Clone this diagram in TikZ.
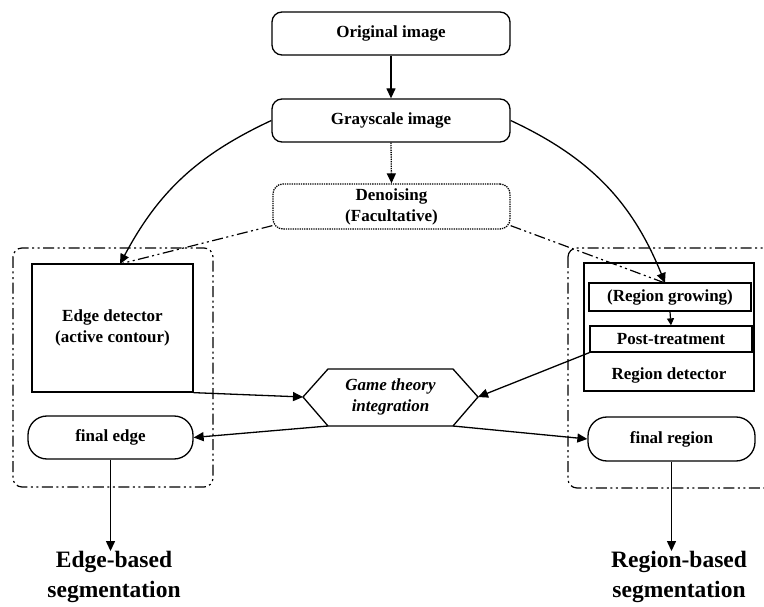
\documentclass[tikz,border=0pt]{standalone}
\usepackage{fontspec}
\setmainfont{Liberation Serif}
\usetikzlibrary{arrows.meta,calc}
\tikzset{
  lbl/.style={font=\bfseries\fontsize{17}{21}\selectfont, align=center, inner sep=0pt},
  box/.style={draw, line width=1.3pt, lbl},
  rbox/.style={box, rounded corners=10pt},
  pill/.style={box, rounded corners=19pt},
  ddot/.style={line width=1.2pt, dash pattern=on 11pt off 3.5pt on 2pt off 3.5pt on 2pt off 3.5pt},
  arr/.style={line width=1.3pt, -{Triangle[length=10pt,width=9pt]}},
  sarr/.style={line width=1.2pt, -{Triangle[length=7pt,width=7pt]}},
  big/.style={font=\bfseries\fontsize{23.5}{30}\selectfont, align=center, inner sep=0pt},
}
\begin{document}
\begin{tikzpicture}[x=1pt,y=-1pt]
\clip (0,0) rectangle (764,607);
\fill[white] (0,0) rectangle (764,607);
% containers
\draw[ddot, rounded corners=9pt] (13,248) rectangle (213,487);
\draw[ddot, rounded corners=9pt] (568,248) rectangle (800,488);
% nodes
\node[rbox, minimum width=238pt, minimum height=43pt] (orig) at (391,33.5) {Original image};
\node[rbox, minimum width=238pt, minimum height=43pt] (gray) at (391,120.5) {Grayscale image};
\node[rbox, densely dotted, minimum width=237pt, minimum height=45pt] (deno) at (391.5,206.5) {Denoising\\(Facultative)};
\node[box, minimum width=161pt, minimum height=128pt] (edet) at (112.5,328) {Edge detector\\(active contour)};
\node[box, minimum width=170pt, minimum height=128pt] (rdet) at (669,327) {};
\node[lbl] (rdettxt) at (669,375) {Region detector};
\node[box, minimum width=162pt, minimum height=28pt] (rgrow) at (670,297) {(Region growing)};
\node[box, minimum width=162pt, minimum height=26pt] (post) at (671,339) {Post-treatment};
\node[pill, minimum width=165pt, minimum height=43pt] (fedge) at (110.5,437.5) {final edge};
\node[pill, minimum width=167pt, minimum height=44pt] (freg) at (671.5,439) {final region};
% hexagon
\coordinate (gl) at (303,397);
\coordinate (gtl) at (328,369);
\coordinate (gtr) at (453,369);
\coordinate (gr) at (478,397);
\coordinate (gbr) at (453,426);
\coordinate (gbl) at (328,426);
\draw[line width=1.3pt] (gl) -- (gtl) -- (gtr) -- (gr) -- (gbr) -- (gbl) -- cycle;
\node[lbl, font=\bfseries\itshape\fontsize{17}{21}\selectfont] (game) at (390.5,397) {Game theory\\integration};
% outputs
\node[big] (eseg) at (114,577) {Edge-based\\segmentation};
\node[big] (rseg) at (679,577) {Region-based\\segmentation};
% connection points
\coordinate (ein) at (120,264);
\coordinate (rin) at (665,283);
% connectors
\draw[arr] (orig.south) -- (gray.north);
\draw[arr, densely dotted] (gray.south) -- (deno.north);
\draw[arr] (gray.west) to[out=205,in=62] (ein);
\draw[arr] (gray.east) to[out=-25,in=112] (rin);
\draw[ddot] (deno.south west) ++(0,-4) -- (ein);
\draw[ddot] (deno.south east) ++(0,-4) -- (rin);
\draw[arr] (edet.south east) -- (gl);
\draw[arr] (post.south west) -- (gr);
\draw[arr] (gbl) -- (fedge.east);
\draw[arr] (gbr) -- (freg.west);
\draw[sarr] (rgrow.south) -- (post.north);
\draw[arr] (fedge.south) -- (fedge.south |- eseg.north);
\draw[arr] (freg.south) -- (freg.south |- rseg.north);
\end{tikzpicture}
\end{document}
